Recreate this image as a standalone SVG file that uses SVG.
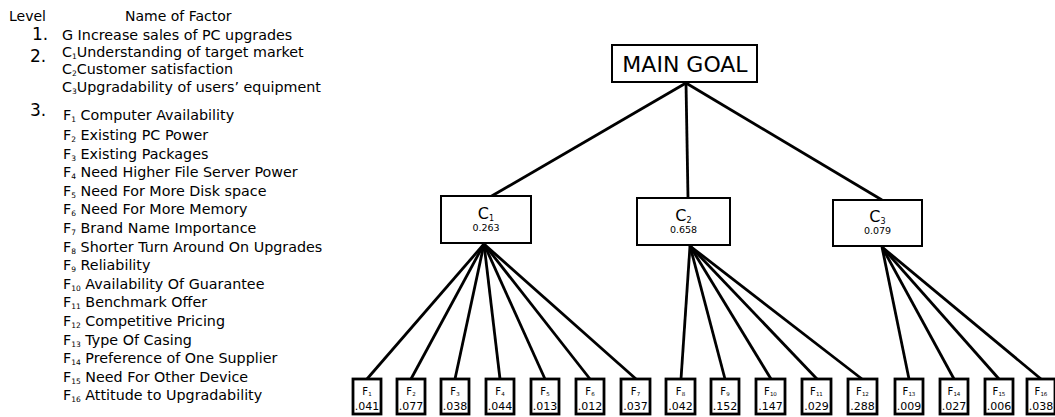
<svg xmlns="http://www.w3.org/2000/svg" width="1055" height="417" viewBox="0 0 1055 417">
<style>
text{font-family:"DejaVu Sans","Liberation Sans",sans-serif;fill:#000}
.h{font-size:14px}
.t{font-size:14.3px}
.n{font-size:17px}
.s{font-size:7.5px}
.box{fill:#fff;stroke:#000;stroke-width:2}
.fb{fill:#fff;stroke:#000;stroke-width:2.8}
.ln{stroke:#000;stroke-width:2.8;fill:none}
.cl{font-size:16px;text-anchor:middle}
.cv{font-size:9.5px;text-anchor:middle}
.fl{font-size:10px;text-anchor:middle}
.fv{font-size:11px;text-anchor:middle}
</style>
<rect width="1055" height="417" fill="#fff"/>
<g id="legend">
<text class="h" x="9" y="21">Level</text>
<text class="h" x="125" y="21">Name of Factor</text>
<text class="n" x="32" y="40">1.</text>
<text class="n" x="30" y="62">2.</text>
<text class="n" x="30" y="116">3.</text>
<text class="t" x="62" y="40">G Increase sales of PC upgrades</text>
<text class="t" x="62" y="57">C<tspan class="s" dy="2">1</tspan><tspan dy="-2">Understanding of target market</tspan></text>
<text class="t" x="62" y="74">C<tspan class="s" dy="2">2</tspan><tspan dy="-2">Customer satisfaction</tspan></text>
<text class="t" x="62" y="92">C<tspan class="s" dy="2">3</tspan><tspan dy="-2">Upgradability of users’ equipment</tspan></text>
<text class="t" x="63" y="120">F<tspan class="s" dy="2">1</tspan><tspan dy="-2"> Computer Availability</tspan></text>
<text class="t" x="63" y="140">F<tspan class="s" dy="2">2</tspan><tspan dy="-2"> Existing PC Power</tspan></text>
<text class="t" x="63" y="158.6">F<tspan class="s" dy="2">3</tspan><tspan dy="-2"> Existing Packages</tspan></text>
<text class="t" x="63" y="177.2">F<tspan class="s" dy="2">4</tspan><tspan dy="-2"> Need Higher File Server Power</tspan></text>
<text class="t" x="63" y="195.8">F<tspan class="s" dy="2">5</tspan><tspan dy="-2"> Need For More Disk space</tspan></text>
<text class="t" x="63" y="214.4">F<tspan class="s" dy="2">6</tspan><tspan dy="-2"> Need For More Memory</tspan></text>
<text class="t" x="63" y="233">F<tspan class="s" dy="2">7</tspan><tspan dy="-2"> Brand Name Importance</tspan></text>
<text class="t" x="63" y="251.6">F<tspan class="s" dy="2">8</tspan><tspan dy="-2"> Shorter Turn Around On Upgrades</tspan></text>
<text class="t" x="63" y="270.2">F<tspan class="s" dy="2">9</tspan><tspan dy="-2"> Reliability</tspan></text>
<text class="t" x="63" y="288.8">F<tspan class="s" dy="2">10</tspan><tspan dy="-2"> Availability Of Guarantee</tspan></text>
<text class="t" x="63" y="307.4">F<tspan class="s" dy="2">11</tspan><tspan dy="-2"> Benchmark Offer</tspan></text>
<text class="t" x="63" y="326">F<tspan class="s" dy="2">12</tspan><tspan dy="-2"> Competitive Pricing</tspan></text>
<text class="t" x="63" y="344.6">F<tspan class="s" dy="2">13</tspan><tspan dy="-2"> Type Of Casing</tspan></text>
<text class="t" x="63" y="363.2">F<tspan class="s" dy="2">14</tspan><tspan dy="-2"> Preference of One Supplier</tspan></text>
<text class="t" x="63" y="381.8">F<tspan class="s" dy="2">15</tspan><tspan dy="-2"> Need For Other Device</tspan></text>
<text class="t" x="63" y="400.4">F<tspan class="s" dy="2">16</tspan><tspan dy="-2"> Attitude to Upgradability</tspan></text>
</g>
<g id="connectors" class="ln">
<line x1="686" y1="83" x2="490" y2="197"/>
<line x1="686" y1="83" x2="688" y2="198"/>
<line x1="686" y1="83" x2="882" y2="200"/>
<line x1="484" y1="244" x2="367" y2="379"/>
<line x1="484" y1="244" x2="411" y2="379"/>
<line x1="484" y1="244" x2="455" y2="379"/>
<line x1="484" y1="244" x2="500" y2="379"/>
<line x1="484" y1="244" x2="545" y2="379"/>
<line x1="484" y1="244" x2="590" y2="379"/>
<line x1="484" y1="244" x2="636" y2="379"/>
<line x1="690" y1="246" x2="681" y2="379"/>
<line x1="690" y1="246" x2="725" y2="379"/>
<line x1="690" y1="246" x2="771" y2="379"/>
<line x1="690" y1="246" x2="817" y2="379"/>
<line x1="690" y1="246" x2="862" y2="379"/>
<line x1="882" y1="247" x2="909" y2="379"/>
<line x1="882" y1="247" x2="954" y2="379"/>
<line x1="882" y1="247" x2="999" y2="379"/>
<line x1="882" y1="247" x2="1041" y2="379"/>
</g>
<g id="main-goal">
<rect class="box" x="612" y="45" width="145" height="37"/>
<text x="685" y="72" font-size="22" text-anchor="middle">MAIN GOAL</text>
</g>
<g id="c1">
<rect class="box" x="441" y="196" width="90" height="47"/>
<text class="cl" x="486" y="219">C<tspan font-size="8" dy="2">1</tspan></text>
<text class="cv" x="486" y="231">0.263</text>
</g>
<g id="c2">
<rect class="box" x="637" y="198" width="93" height="47"/>
<text class="cl" x="683.5" y="221">C<tspan font-size="8" dy="2">2</tspan></text>
<text class="cv" x="683.5" y="233">0.658</text>
</g>
<g id="c3">
<rect class="box" x="833" y="200" width="89" height="46"/>
<text class="cl" x="877.5" y="222">C<tspan font-size="8" dy="2">3</tspan></text>
<text class="cv" x="877.5" y="234">0.079</text>
</g>
<g id="f1"><rect class="fb" x="353" y="379" width="28" height="35"/><text class="fl" x="367" y="395">F<tspan font-size="5.5" dy="1">1</tspan></text><text class="fv" x="367" y="410">.041</text></g>
<g id="f2"><rect class="fb" x="397" y="379" width="28" height="35"/><text class="fl" x="411" y="395">F<tspan font-size="5.5" dy="1">2</tspan></text><text class="fv" x="411" y="410">.077</text></g>
<g id="f3"><rect class="fb" x="441" y="379" width="28" height="35"/><text class="fl" x="455" y="395">F<tspan font-size="5.5" dy="1">3</tspan></text><text class="fv" x="455" y="410">.038</text></g>
<g id="f4"><rect class="fb" x="486" y="379" width="28" height="35"/><text class="fl" x="500" y="395">F<tspan font-size="5.5" dy="1">4</tspan></text><text class="fv" x="500" y="410">.044</text></g>
<g id="f5"><rect class="fb" x="531" y="379" width="28" height="35"/><text class="fl" x="545" y="395">F<tspan font-size="5.5" dy="1">5</tspan></text><text class="fv" x="545" y="410">.013</text></g>
<g id="f6"><rect class="fb" x="576" y="379" width="28" height="35"/><text class="fl" x="590" y="395">F<tspan font-size="5.5" dy="1">6</tspan></text><text class="fv" x="590" y="410">.012</text></g>
<g id="f7"><rect class="fb" x="621" y="379" width="29" height="35"/><text class="fl" x="635.5" y="395">F<tspan font-size="5.5" dy="1">7</tspan></text><text class="fv" x="635.5" y="410">.037</text></g>
<g id="f8"><rect class="fb" x="666" y="379" width="29" height="35"/><text class="fl" x="680.5" y="395">F<tspan font-size="5.5" dy="1">8</tspan></text><text class="fv" x="680.5" y="410">.042</text></g>
<g id="f9"><rect class="fb" x="711" y="379" width="28" height="35"/><text class="fl" x="725" y="395">F<tspan font-size="5.5" dy="1">9</tspan></text><text class="fv" x="725" y="410">.152</text></g>
<g id="f10"><rect class="fb" x="756" y="379" width="29" height="35"/><text class="fl" x="770.5" y="395">F<tspan font-size="5.5" dy="1">10</tspan></text><text class="fv" x="770.5" y="410">.147</text></g>
<g id="f11"><rect class="fb" x="802" y="379" width="29" height="35"/><text class="fl" x="816.5" y="395">F<tspan font-size="5.5" dy="1">11</tspan></text><text class="fv" x="816.5" y="410">.029</text></g>
<g id="f12"><rect class="fb" x="848" y="379" width="29" height="35"/><text class="fl" x="862.5" y="395">F<tspan font-size="5.5" dy="1">12</tspan></text><text class="fv" x="862.5" y="410">.288</text></g>
<g id="f13"><rect class="fb" x="895" y="379" width="28" height="35"/><text class="fl" x="909" y="395">F<tspan font-size="5.5" dy="1">13</tspan></text><text class="fv" x="909" y="410">.009</text></g>
<g id="f14"><rect class="fb" x="940" y="379" width="28" height="35"/><text class="fl" x="954" y="395">F<tspan font-size="5.5" dy="1">14</tspan></text><text class="fv" x="954" y="410">.027</text></g>
<g id="f15"><rect class="fb" x="985" y="379" width="28" height="35"/><text class="fl" x="999" y="395">F<tspan font-size="5.5" dy="1">15</tspan></text><text class="fv" x="999" y="410">.006</text></g>
<g id="f16"><rect class="fb" x="1027" y="379" width="28" height="35"/><text class="fl" x="1041" y="395">F<tspan font-size="5.5" dy="1">16</tspan></text><text class="fv" x="1041" y="410">.038</text></g>
</svg>
